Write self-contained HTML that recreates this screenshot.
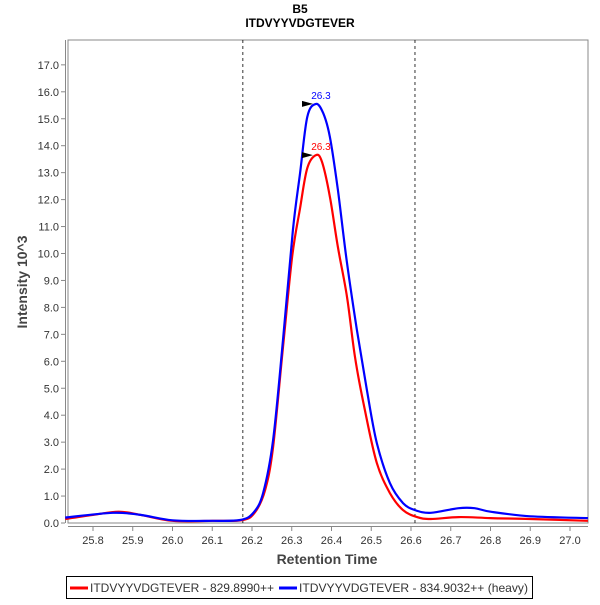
<!DOCTYPE html>
<html><head><meta charset="utf-8"><style>
body{margin:0;background:#fff;font-family:"Liberation Sans",sans-serif}
</style></head><body>
<svg width="600" height="600" font-family="Liberation Sans, sans-serif">
<text x="300" y="13" text-anchor="middle" font-size="12" font-weight="bold">B5</text>
<text x="300" y="27" text-anchor="middle" font-size="12" font-weight="bold">ITDVYYVDGTEVER</text>
<rect x="68" y="40" width="520" height="483" fill="#fff" stroke="#888"/>
<line x1="65.5" y1="40" x2="65.5" y2="523" stroke="#888"/>
<line x1="68" y1="526.5" x2="588" y2="526.5" stroke="#888"/>
<g id="yt"></g><g id="xt"></g><g id="marks"></g>
<text x="327" y="564" text-anchor="middle" font-size="14" font-weight="bold" fill="#444">Retention Time</text>
<text transform="translate(27,282) rotate(-90)" text-anchor="middle" font-size="14" font-weight="bold" fill="#444">Intensity 10^3</text>
<g>
<rect x="66.5" y="576.5" width="466" height="22" fill="#fff" stroke="#000"/>
<line x1="70" y1="588" x2="88" y2="588" stroke="#f00" stroke-width="3"/>
<text x="90" y="592" font-size="12" fill="#333" textLength="184" lengthAdjust="spacingAndGlyphs">ITDVYYVDGTEVER - 829.8990++</text>
<line x1="279" y1="588" x2="297" y2="588" stroke="#00f" stroke-width="3"/>
<text x="299" y="592" font-size="12" fill="#333" textLength="229" lengthAdjust="spacingAndGlyphs">ITDVYYVDGTEVER - 834.9032++ (heavy)</text>
</g>
</svg>
<script>
const yTicks=[0,1,2,3,4,5,6,7,8,9,10,11,12,13,14,15,16,17];
const xTicks=[25.8,25.9,26.0,26.1,26.2,26.3,26.4,26.5,26.6,26.7,26.8,26.9,27.0];
const redTimes=[25.73,25.8,25.865,25.92,26.0,26.1,26.177,26.208,26.233,26.253,26.278,26.301,26.321,26.339,26.361,26.376,26.396,26.416,26.439,26.459,26.484,26.514,26.547,26.58,26.615,26.65,26.72,26.8,26.9,27.045];
const redValues=[0.15,0.3,0.42,0.3,0.08,0.08,0.11,0.41,1.22,2.82,6.53,9.87,11.69,13.17,13.65,13.4,12.1,10.24,8.39,6.16,4.19,2.23,1.11,0.48,0.22,0.15,0.22,0.18,0.15,0.08];
const blueTimes=[25.73,25.85,25.92,26.0,26.1,26.17,26.203,26.228,26.253,26.278,26.303,26.321,26.339,26.361,26.379,26.396,26.416,26.439,26.464,26.489,26.514,26.547,26.58,26.61,26.65,26.72,26.76,26.8,26.9,27.045];
const blueValues=[0.2,0.38,0.3,0.1,0.08,0.11,0.37,1.11,3.08,6.79,10.87,12.99,15.07,15.55,15.21,14.32,12.36,9.65,7.16,4.93,2.97,1.48,0.74,0.48,0.38,0.55,0.55,0.42,0.25,0.18];
const peakTimes=[26.361,26.361];
const peakValues=[15.55,13.65];
const peakLabels=["26.3","26.3"];
const peakColors=["#00f","#f00"];
const boundaryTimes=[26.177,26.61];
const NS="http://www.w3.org/2000/svg";
const X=t=>93+(t-25.8)*397.5;
const Y=v=>523-v*26.95;
function mk(tag,at,parent){const e=document.createElementNS(NS,tag);for(const k in at)e.setAttribute(k,at[k]);document.getElementById(parent).appendChild(e);return e;}
yTicks.forEach(v=>{
 const l=mk('line',{x1:61,x2:65,y1:Y(v),y2:Y(v),stroke:'#888'},'yt');
 
 
 const t=mk('text',{x:59,y:Y(v)+4,'text-anchor':'end','font-size':11,fill:'#333'},'yt');
 
 
 t.textContent=v.toFixed(1);
});
xTicks.forEach(v=>{
 const l=mk('line',{x1:X(v),x2:X(v),y1:527,y2:531,stroke:'#888'},'xt');
 
 
 const t=mk('text',{x:X(v),y:544,'text-anchor':'middle','font-size':11,fill:'#333'},'xt');
 
 
 t.textContent=v.toFixed(1);
});
boundaryTimes.forEach(b=>{
 const l=mk('line',{x1:X(b),x2:X(b),y1:40,y2:523,stroke:'#000','stroke-width':0.8,'stroke-dasharray':'3,3'},'marks');
 
 
});
function series(ts,vs,col,name){
 const P=ts.map((t,i)=>[X(t),Y(vs[i])]);
 let d='M'+P[0][0].toFixed(1)+','+P[0][1].toFixed(1);
 for(let i=0;i<P.length-1;i++){
  const p0=P[Math.max(0,i-1)],p1=P[i],p2=P[i+1],p3=P[Math.min(P.length-1,i+2)];
  const c1=[p1[0]+(p2[0]-p0[0])/6,p1[1]+(p2[1]-p0[1])/6];
  const c2=[p2[0]-(p3[0]-p1[0])/6,p2[1]-(p3[1]-p1[1])/6];
  d+='C'+c1[0].toFixed(1)+','+c1[1].toFixed(1)+' '+c2[0].toFixed(1)+','+c2[1].toFixed(1)+' '+p2[0].toFixed(1)+','+p2[1].toFixed(1);
 }
 const p=mk('path',{d:d,fill:'none',stroke:col,'stroke-width':2.2,'stroke-linejoin':'round'},'marks');
 
 
}
series(redTimes,redValues,'#f00','series-light');
series(blueTimes,blueValues,'#00f','series-heavy');
peakTimes.forEach((t,i)=>{
 const x=X(t),y=Y(peakValues[i]);
 const a=mk('path',{d:`M${x-14},${y-3}L${x-3},${y}L${x-14},${y+3}Z`,fill:'#000'},'marks');
 
 
 const tx=mk('text',{x:x+5,y:y-5,'text-anchor':'middle','font-size':10,fill:peakColors[i]},'marks');
 
 
 tx.textContent=peakLabels[i];
});
</script>
</body></html>
